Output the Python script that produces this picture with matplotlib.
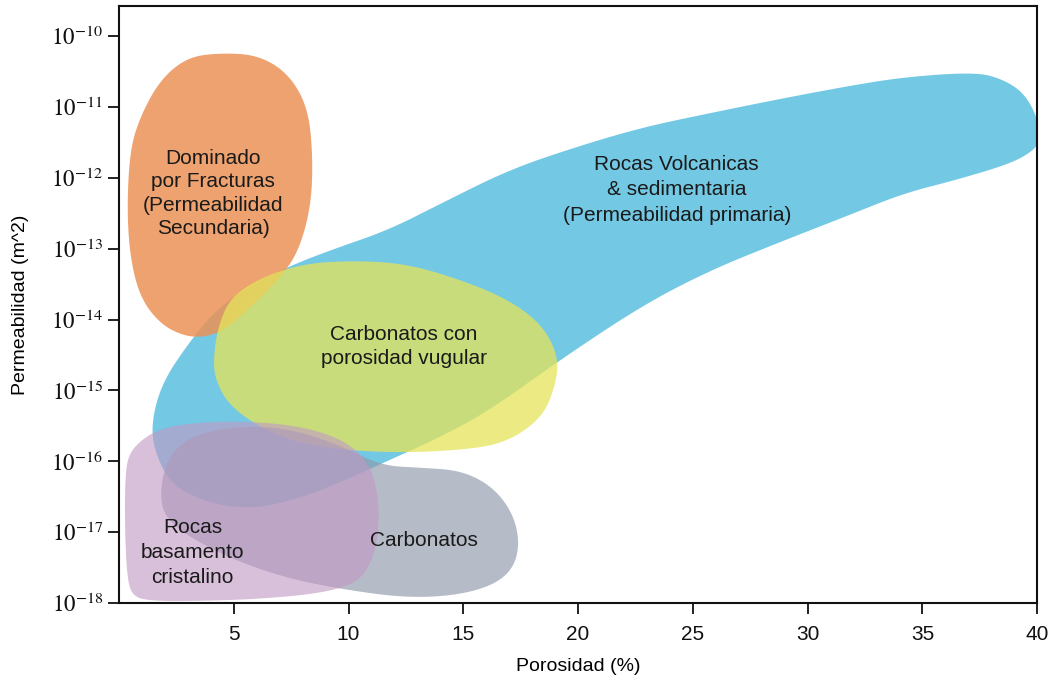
import numpy as np
import matplotlib
matplotlib.use("Agg")
import matplotlib.pyplot as plt

plt.rcParams['font.family'] = ['Liberation Sans Narrow', 'Liberation Sans', 'DejaVu Sans']
plt.rcParams['mathtext.fontset'] = 'stix'

# Outline of each region: porosity (%) and log10 permeability (m^2)
orange_x = [4.42, 2.98, 1.79, 0.92, 0.48, 0.35, 0.48, 0.92, 1.79, 2.80,
            3.68, 4.55, 5.73, 6.91, 7.79, 8.36, 8.45, 8.23, 7.35, 6.04]
orange_y = [-10.24, -10.30, -10.62, -11.14, -11.61, -12.42, -13.12, -13.69, -14.06, -14.23,
            -14.25, -14.16, -13.83, -13.45, -13.07, -12.42, -11.71, -11.00, -10.52, -10.27]

blue_x = [40.1, 40.0, 39.43, 38.56, 37.37, 34.18, 31.55, 28.62, 25.73, 22.80,
          19.87, 16.98, 14.05, 11.73, 9.23, 7.48, 5.73, 4.20, 3.11, 1.93,
          1.44, 1.49, 2.23, 3.68, 5.16, 6.61, 8.80, 11.73, 13.92, 16.11,
          19.17, 22.80, 25.73, 28.62, 31.55, 34.18, 36.37, 38.86, 39.87]
blue_y = [-11.47, -11.14, -10.81, -10.62, -10.51, -10.58, -10.72, -10.90, -11.09, -11.29,
          -11.57, -11.89, -12.36, -12.74, -13.02, -13.24, -13.52, -13.87, -14.30, -14.86,
          -15.39, -15.81, -16.32, -16.56, -16.66, -16.63, -16.42, -15.99, -15.67, -15.29,
          -14.58, -13.80, -13.31, -12.93, -12.56, -12.22, -12.04, -11.80, -11.61]

yellow_x = [4.11, 4.33, 4.86, 6.17, 8.05, 10.24, 12.43, 14.62, 16.81, 18.42,
            19.17, 18.99, 18.42, 16.81, 14.62, 11.73, 8.80, 6.61, 4.86, 4.20]
yellow_y = [-14.54, -14.08, -13.69, -13.41, -13.21, -13.17, -13.21, -13.41, -13.69, -14.06,
            -14.54, -14.96, -15.39, -15.75, -15.85, -15.88, -15.81, -15.61, -15.24, -14.86]

gray_x = [1.79, 1.93, 2.45, 3.54, 5.30, 7.48, 9.67, 11.42, 13.17, 14.92, 16.24,
          17.11, 17.46, 17.20, 16.24, 14.49, 12.30, 9.67, 7.48, 5.30, 3.33, 2.14]
gray_y = [-16.56, -16.13, -15.81, -15.60, -15.50, -15.54, -15.78, -16.06, -16.09, -16.13, -16.35,
          -16.70, -17.12, -17.51, -17.76, -17.90, -17.92, -17.80, -17.66, -17.43, -17.12, -16.84]

purple_x = [0.26, 0.39, 0.92, 1.79, 3.11, 5.30, 7.92, 9.89, 10.98, 11.33,
            11.29, 10.98, 10.33, 8.80, 6.17, 3.54, 1.36, 0.57, 0.35, 0.26]
purple_y = [-16.28, -15.92, -15.71, -15.54, -15.46, -15.43, -15.50, -15.71, -16.06, -16.56,
            -17.05, -17.45, -17.72, -17.86, -17.94, -17.97, -17.97, -17.90, -17.62, -16.98]

x_ticks = [5, 10, 15, 20, 25, 30, 35, 40]
y_exps = [-18, -17, -16, -15, -14, -13, -12, -11, -10]


def blob(ax, xs, ys, color, alpha):
    # closed quadratic B-spline (outline points used as control points)
    p = np.column_stack([xs, ys]).astype(float)
    nxt = np.roll(p, -1, axis=0)
    prv = np.roll(p, 1, axis=0)
    start = (prv + p) / 2
    end = (p + nxt) / 2
    t = np.linspace(0, 1, 16)[:-1, None]
    segs = [(1 - t) ** 2 * s + 2 * (1 - t) * t * c + t ** 2 * e
            for s, c, e in zip(start, p, end)]
    curve = np.vstack(segs)
    ax.fill(curve[:, 0], 10.0 ** curve[:, 1], color=color, alpha=alpha, lw=0)


fig = plt.figure(figsize=(10.53, 6.8), dpi=100)
ax = fig.add_axes([0.113, 0.113, 0.872, 0.878])
ax.set_yscale('log')

blob(ax, blue_x, blue_y, '#5BBFE0', 0.85)
blob(ax, orange_x, orange_y, '#EC9256', 0.85)
blob(ax, yellow_x, yellow_y, '#E6E45A', 0.75)
blob(ax, gray_x, gray_y, '#8F99A9', 0.65)
blob(ax, purple_x, purple_y, '#C29AC4', 0.62)

tc = '#1a1a1a'
kw = dict(ha='center', va='center', fontsize=15, color=tc, linespacing=1.3)
ax.text(4.1, 10 ** -12.22, 'Dominado\npor Fracturas\n(Permeabilidad\nSecundaria)', **kw)
ax.text(24.3, 10 ** -12.17, 'Rocas Volcanicas\n& sedimentaria\n(Permeabilidad primaria)',
        **dict(kw, linespacing=1.45))
ax.text(12.4, 10 ** -14.38, 'Carbonatos con\nporosidad vugular', **kw)
ax.text(3.2, 10 ** -17.28, 'Rocas\nbasamento\ncristalino', **dict(kw, linespacing=1.4))
ax.text(13.3, 10 ** -17.12, 'Carbonatos', **kw)

ax.set_xlim(0, 40)
ax.set_ylim(1e-18, 10 ** -9.58)
ax.set_xticks(x_ticks)
ax.set_xticklabels([str(v) for v in x_ticks], fontsize=15)
ax.set_yticks([10.0 ** e for e in y_exps])
ax.set_yticklabels([r'$10^{%d}$' % e for e in y_exps], fontsize=16.5)
ax.minorticks_off()
ax.tick_params(direction='out', length=8, width=1.3, colors='#111111')
ax.tick_params(axis='x', pad=8)
for s in ax.spines.values():
    s.set_linewidth(1.5)
    s.set_color('#111111')

ax.set_xlabel('Porosidad (%)', fontsize=14, labelpad=10)
ax.set_ylabel('Permeabilidad (m^2)', fontsize=14, labelpad=16)

fig.savefig('out.png', dpi=100)
